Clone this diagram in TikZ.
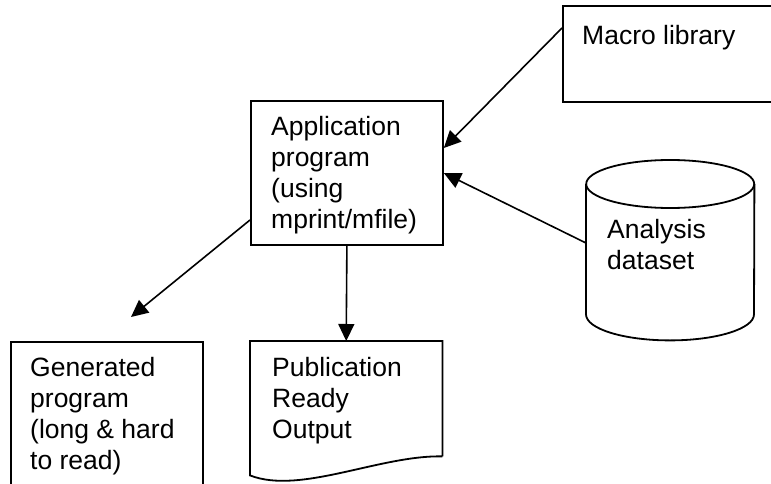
\documentclass[tikz,border=0pt]{standalone}
\usepackage{fontspec}
\setmainfont{Liberation Sans}
\usetikzlibrary{arrows.meta}

\begin{document}
\begin{tikzpicture}[x=1pt,y=1pt]
\tikzstyle{box} = [rectangle, draw, line width=1.8pt, inner sep=0pt, anchor=north west]
\tikzstyle{place} = [rectangle, inner sep=0pt, anchor=north west]
\tikzstyle{txt} = [align=left, inner sep=0pt, anchor=north west, font=\fontsize{26.5}{31}\selectfont]
\tikzstyle{line} = [draw, line width=1.6pt, -{Triangle[length=17pt,width=16pt]}]

\path[use as bounding box, clip] (0,0) rectangle (771,-484);

% boxes
\node [box, minimum width=260, minimum height=96] (macro) at (562,-5) {};
\node [box, minimum width=192, minimum height=144] (app) at (250,-100) {};
\node [box, minimum width=192, minimum height=200] (gen) at (10,-341) {};
% output document with wavy bottom
\node [place, minimum width=192, minimum height=115] (pub) at (250,-341) {};
\draw [line width=1.8pt] (pub.south east) -- (pub.north east) -- (pub.north west)
  -- ([yshift=-19]pub.south west) .. controls (300,-495) and (380,-455) .. (pub.south east);
% dataset cylinder
\node [place, minimum width=168, minimum height=180] (data) at (586,-160) {};
\draw [line width=1.8pt] ([yshift=-24]data.north west) -- ([yshift=26]data.south west)
  arc (180:360:84 and 26) -- ([yshift=-24]data.north east);
\draw [line width=1.8pt] ([yshift=-24]data.north) ellipse (84 and 24);

% texts
\node [txt] (macro text) at ([xshift=20,yshift=-20]macro.north west) {Macro library};
\node [txt] (app text) at ([xshift=21,yshift=-16]app.north west) {Application\\program\\(using\\mprint/mfile)};
\node [txt] (gen text) at ([xshift=20,yshift=-16]gen.north west) {Generated\\program\\(long \& hard\\to read)};
\node [txt] (pub text) at ([xshift=22,yshift=-16]pub.north west) {Publication\\Ready\\Output};
\node [txt] (data text) at ([xshift=21,yshift=-59]data.north west) {Analysis\\dataset};

% connectors
\coordinate (gen tip) at (131,-317);
\path [line] ([yshift=-23]macro.north west) -- ([yshift=-48]app.north east);
\path [line] ([yshift=-83]data.north west) -- ([yshift=-73]app.north east);
\path [line] ([yshift=-120]app.north west) -- (gen tip);
\path [line] (app.south) -- (pub.north);

\end{tikzpicture}
\end{document}
